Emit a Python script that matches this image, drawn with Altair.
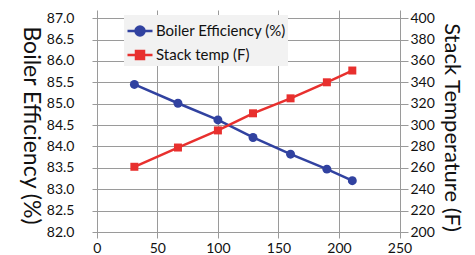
import altair as alt
import pandas as pd

# ---- data ----
x_vals = [31, 67, 100, 129, 160, 190, 211]
efficiency = [85.45, 85.01, 84.62, 84.21, 83.82, 83.47, 83.20]
stack_temp = [261, 279, 295, 311, 325, 340, 351]
series_names = ["Boiler Efficiency (%)", "Stack temp (F)"]
series_colors = ["#3142a0", "#e8302e"]
x_ticks = [0, 50, 100, 150, 200, 250]
eff_ticks = [82.0, 82.5, 83.0, 83.5, 84.0, 84.5, 85.0, 85.5, 86.0, 86.5, 87.0]
temp_ticks = [200, 220, 240, 260, 280, 300, 320, 340, 360, 380, 400]

eff_df = pd.DataFrame({"x": x_vals, "eff": efficiency})
temp_df = pd.DataFrame({"x": x_vals, "temp": stack_temp})
legend_df = pd.DataFrame({"series": series_names})

FONT = "Lato"
BLUE, RED = series_colors
H = 228

x_enc = alt.X(
    "x:Q",
    scale=alt.Scale(domain=[-4, 257], nice=False, zero=False),
    axis=alt.Axis(values=x_ticks, title=None, labelPadding=3, grid=True,
                  domain=False, ticks=False, tickSize=0, labelFontSize=14,
                  labelFont=FONT, labelColor="#111", gridColor="#9a9a9a",
                  labelFlush=False),
)

eff_y = alt.Y(
    "eff:Q",
    scale=alt.Scale(domain=[81.86, 87.19], nice=False, zero=False),
    axis=alt.Axis(values=eff_ticks, format=".1f", title="Boiler Efficiency (%)",
                  orient="left", grid=True, gridColor="#9a9a9a", domain=False,
                  ticks=False, tickSize=0, labelPadding=18, labelFontSize=14,
                  labelFont=FONT, labelColor="#111", titleFont=FONT,
                  titleFontSize=23, titleFontWeight="normal", titleColor="#111",
                  titleAngle=90, titleX=-62, titleY=H / 2 + 1, titleAlign="center",
                  titleBaseline="middle", labelFlush=False),
)

temp_y = alt.Y(
    "temp:Q",
    scale=alt.Scale(domain=[194.4, 407.6], nice=False, zero=False),
    axis=alt.Axis(values=temp_ticks, format="d", title="Stack Temperature (F)",
                  orient="right", grid=False, domain=False, ticks=False,
                  tickSize=0, labelPadding=2, labelFontSize=14, labelFont=FONT,
                  labelColor="#111", titleFont=FONT, titleFontSize=22,
                  titleFontWeight="normal", titleColor="#111", titleAngle=90,
                  titleX=43, titleY=H / 2 + 3, titleAlign="center",
                  titleBaseline="middle", labelFlush=False),
)

eff_line = alt.Chart(eff_df).mark_line(color=BLUE, strokeWidth=2.5).encode(x=x_enc, y=eff_y)
eff_pts = alt.Chart(eff_df).mark_point(filled=True, color=BLUE, shape="circle",
                                       size=80, opacity=1).encode(x=x_enc, y=eff_y)
temp_line = alt.Chart(temp_df).mark_line(color=RED, strokeWidth=2.5).encode(x=x_enc, y=temp_y)
temp_pts = alt.Chart(temp_df).mark_point(filled=True, color=RED, shape="square",
                                         size=64, opacity=1).encode(x=x_enc, y=temp_y)

circle_path = "M-1,0H1M-0.36,0A0.36,0.36,0,1,0,0.36,0A0.36,0.36,0,1,0,-0.36,0Z"
square_path = "M-1,0H1M-0.32,-0.32H0.32V0.32H-0.32Z"

leg = alt.Legend(title=None, orient="none", legendX=32, legendY=5,
                 symbolSize=625, symbolStrokeWidth=2.5, labelFontSize=15,
                 labelFont=FONT, labelColor="#111", labelOffset=2,
                 rowPadding=0, padding=2, fillColor="#f2f2f2",
                 symbolOpacity=1, labelLimit=300)

legend_layer = alt.Chart(legend_df).mark_point(filled=False, strokeWidth=2.5, opacity=1).encode(
    shape=alt.Shape("series:N", scale=alt.Scale(domain=series_names,
                    range=[circle_path, square_path]), legend=leg),
    stroke=alt.Stroke("series:N", scale=alt.Scale(domain=series_names,
                      range=series_colors), legend=leg),
    fill=alt.Fill("series:N", scale=alt.Scale(domain=series_names,
                  range=series_colors), legend=leg),
).transform_filter("false")

chart = alt.layer(
    alt.layer(eff_line, eff_pts),
    alt.layer(temp_line, temp_pts),
    legend_layer,
).resolve_scale(y="independent").properties(
    width=316, height=H,
    padding={"left": 84, "top": 2, "right": 59, "bottom": 17},
    autosize=alt.AutoSizeParams(type="none"),
).configure_view(fill="#efefef", stroke=None)

chart.save("out.html", embed_options={"renderer": "svg", "actions": False})
